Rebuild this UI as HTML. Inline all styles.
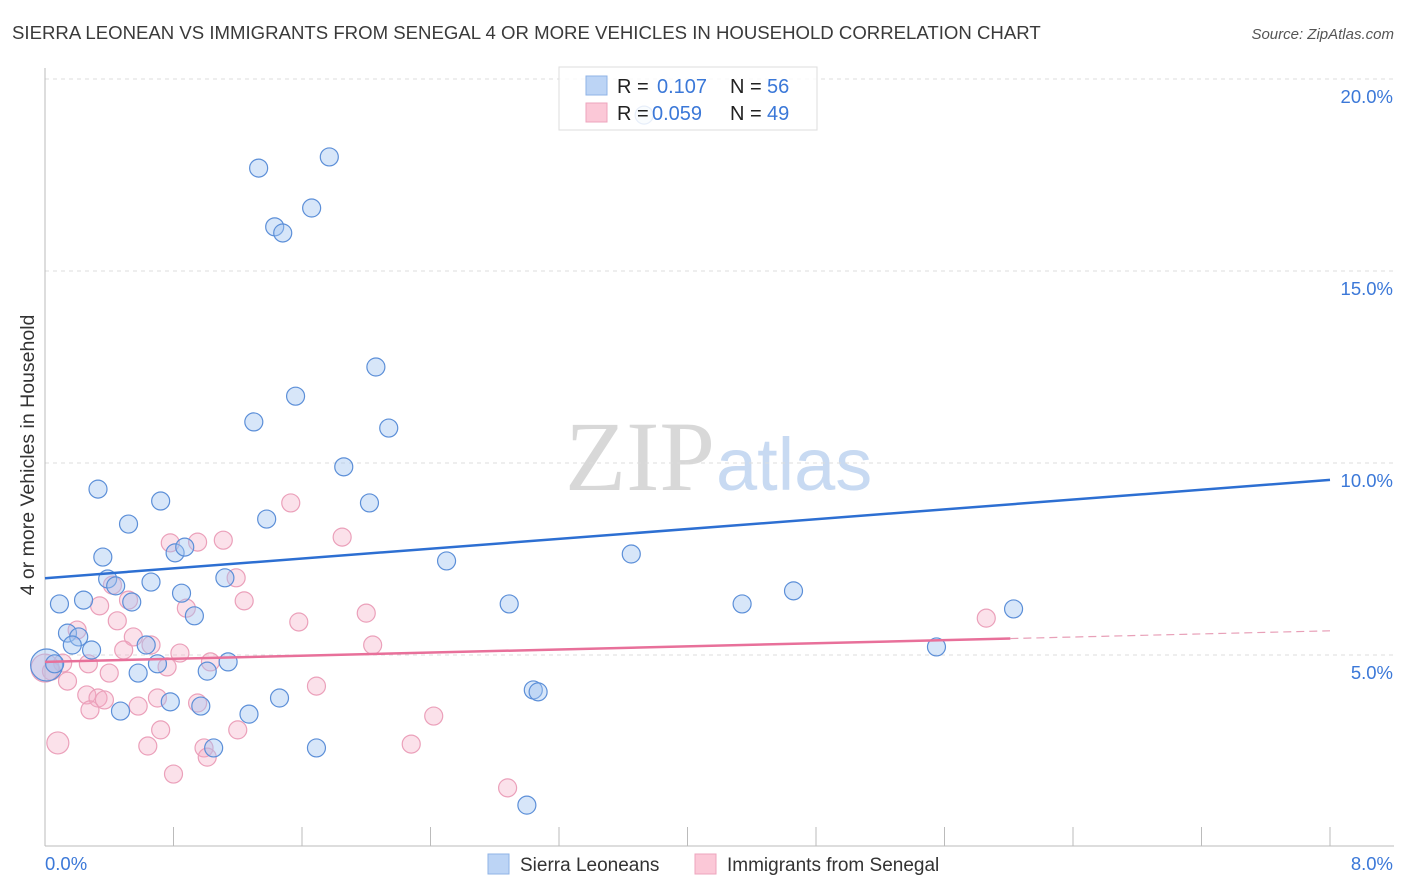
<!DOCTYPE html>
<html><head><meta charset="utf-8"><style>
body{margin:0;background:#fff;font-family:"Liberation Sans",sans-serif;}
svg{display:block}
</style></head><body>
<svg id="chart" width="1406" height="892">
<text x="12" y="39" font-size="18.6" fill="#3a3a3a">SIERRA LEONEAN VS IMMIGRANTS FROM SENEGAL 4 OR MORE VEHICLES IN HOUSEHOLD CORRELATION CHART</text>
<text x="1394" y="39" font-size="15" fill="#555" font-style="italic" text-anchor="end">Source: ZipAtlas.com</text>
<text x="715" y="490" font-size="100" fill="#d8d8d8" text-anchor="end" font-family="Liberation Serif,serif">ZIP</text>
<text x="716" y="490" font-size="74" fill="#c8daf2">atlas</text>
<text transform="translate(34,455) rotate(-90)" font-size="19.5" fill="#333" text-anchor="middle">4 or more Vehicles in Household</text>
<g id="grid"></g><g id="axes"></g><g id="pts"></g><g id="lines"></g>
<g>
<rect x="559" y="67" width="258" height="63" fill="#fff" fill-opacity="0.85" stroke="#ddd"/>
<rect x="586" y="76" width="21" height="19" fill="#bcd4f5" stroke="#8fb3e6"/>
<rect x="586" y="103" width="21" height="19" fill="#fbc8d7" stroke="#eea4bd"/>
<text x="617" y="93" font-size="20" fill="#222">R = <tspan x="657" fill="#3b78d8">0.107</tspan><tspan x="730" fill="#222">N = </tspan><tspan x="767" fill="#3b78d8">56</tspan></text>
<text x="617" y="120" font-size="20" fill="#222">R = <tspan x="652" fill="#3b78d8">0.059</tspan><tspan x="730" fill="#222">N = </tspan><tspan x="767" fill="#3b78d8">49</tspan></text>
</g>
<g>
<rect x="488" y="854" width="21" height="20" fill="#bcd4f5" stroke="#8fb3e6"/>
<text x="520" y="871" font-size="19" fill="#333">Sierra Leoneans</text>
<rect x="695" y="854" width="21" height="20" fill="#fbc8d7" stroke="#eea4bd"/>
<text x="727" y="871" font-size="19" fill="#333">Immigrants from Senegal</text>
</g>
</svg>
<script>
const yTicks=[5,10,15,20];
const xTickLabels=["0.0%","8.0%"];
const blueX=[1.33,1.77,1.66,1.43,1.48,2.06,1.56,1.30,2.14,1.86,0.33,0.72,2.02,0.52,1.38,0.36,0.81,0.87,2.50,3.65,0.39,0.66,0.44,1.12,0.54,0.09,0.24,0.85,0.93,2.89,4.34,4.66,6.03,0.14,0.21,0.17,0.29,0.63,0.70,1.14,1.01,0.58,0.01,0.06,5.55,0.47,0.78,0.97,1.27,1.46,3.04,3.07,1.69,1.05,3.00,3.73];
const blueY=[17.68,17.97,16.64,16.15,15.99,12.5,11.74,11.07,10.91,9.90,9.32,9.01,8.96,8.41,8.54,7.55,7.66,7.81,7.45,7.63,6.98,6.90,6.80,7.01,6.38,6.33,6.43,6.61,6.02,6.33,6.33,6.67,6.20,5.57,5.47,5.26,5.13,5.26,4.77,4.82,4.58,4.53,4.74,4.77,5.21,3.54,3.78,3.67,3.46,3.88,4.09,4.04,2.58,2.58,1.09,19.06];
const blueR=[9,9,9,9,9,9,9,9,9,9,9,9,9,9,9,9,9,9,9,9,9,9,9,9,9,9,9,9,9,9,9,9,9,9,9,9,9,9,9,9,9,9,16,9,9,9,9,9,9,9,9,9,9,9,9,9];
const pinkX=[1.53,1.85,0.78,0.95,1.11,1.19,0.42,0.52,0.34,1.24,0.88,2.00,0.45,1.58,0.20,0.55,0.84,0.66,0.49,0.76,1.03,0.11,2.04,0.27,0.04,0.14,0.40,1.69,0.26,0.33,0.37,0.70,0.28,0.58,0.95,1.20,0.72,2.42,0.64,0.99,1.01,2.28,0.80,2.88,0.08,5.86,0.00];
const pinkY=[8.96,8.07,7.92,7.94,7.99,7.01,6.82,6.43,6.28,6.41,6.22,6.09,5.89,5.86,5.65,5.47,5.05,5.26,5.13,4.69,4.82,4.79,5.26,4.77,4.58,4.32,4.53,4.19,3.96,3.88,3.83,3.88,3.57,3.67,3.75,3.05,3.05,3.41,2.63,2.58,2.34,2.68,1.90,1.54,2.71,5.96,4.66];
const pinkR=[9,9,9,9,9,9,9,9,9,9,9,9,9,9,9,9,9,9,9,9,9,9,9,9,9,9,9,9,9,9,9,9,9,9,9,9,9,9,9,9,9,9,9,9,11,9,14];
const blueTrend=[7.0,9.56];
const pinkTrend=[4.82,5.63];
const pinkSolidEnd=6.01;
const NS="http://www.w3.org/2000/svg";
const X0=45,X1=1330,Y0=847,PPY=38.4;
const sx=v=>X0+v/8*(X1-X0);
const sy=v=>Y0-v*PPY;
function mk(tag,attrs,parent){const e=document.createElementNS(NS,tag);for(const k in attrs)e.setAttribute(k,attrs[k]);document.getElementById(parent).appendChild(e);return e;}
yTicks.forEach(t=>{
 const l=mk('line',{x1:X0,x2:1394,y1:sy(t),y2:sy(t),stroke:'#ddd','stroke-dasharray':'4,4'},'grid');
 
 
 const tx=mk('text',{x:1393,y:sy(t)+24,'font-size':18.5,fill:'#3b78d8','text-anchor':'end'},'grid');
 tx.textContent=t.toFixed(1)+'%';
 
 
});
mk('line',{x1:X0,x2:X0,y1:68,y2:Y0-1,stroke:'#bbb'},'axes');
mk('line',{x1:X0,x2:1394,y1:Y0-1,y2:Y0-1,stroke:'#bbb'},'axes');
for(let i=0;i<=10;i++){const x=sx(i*0.8);const t=mk('line',{x1:x,x2:x,y1:827,y2:846,stroke:'#bbb'},'axes');
 
 }
xTickLabels.forEach((s,i)=>{const t=mk('text',{x:i?1393:45,y:870,'font-size':18.5,fill:'#3b78d8','text-anchor':i?'end':'start'},'axes');t.textContent=s;
 
 });
pinkX.forEach((v,i)=>{const c=mk('circle',{cx:sx(v),cy:sy(pinkY[i]),r:pinkR[i],fill:'rgba(244,170,195,0.35)',stroke:'#eba0ba','stroke-width':1.2},'pts');
 
 });
blueX.forEach((v,i)=>{const c=mk('circle',{cx:sx(v),cy:sy(blueY[i]),r:blueR[i],fill:'rgba(160,195,240,0.42)',stroke:'#5c8fd8','stroke-width':1.2},'pts');
 
 });
const bl=mk('line',{x1:sx(0),y1:sy(blueTrend[0]),x2:sx(8),y2:sy(blueTrend[1]),stroke:'#2d6fd2','stroke-width':2.5},'lines');


const pAt=v=>pinkTrend[0]+(pinkTrend[1]-pinkTrend[0])*v/8;
const pl=mk('line',{x1:sx(0),y1:sy(pinkTrend[0]),x2:sx(pinkSolidEnd),y2:sy(pAt(pinkSolidEnd)),stroke:'#e8709a','stroke-width':2.5},'lines');


const pd=mk('line',{x1:sx(pinkSolidEnd),y1:sy(pAt(pinkSolidEnd)),x2:sx(8),y2:sy(pinkTrend[1]),stroke:'#e8a0b8','stroke-width':1.2,'stroke-dasharray':'8,5'},'lines');


</script>
</body></html>
